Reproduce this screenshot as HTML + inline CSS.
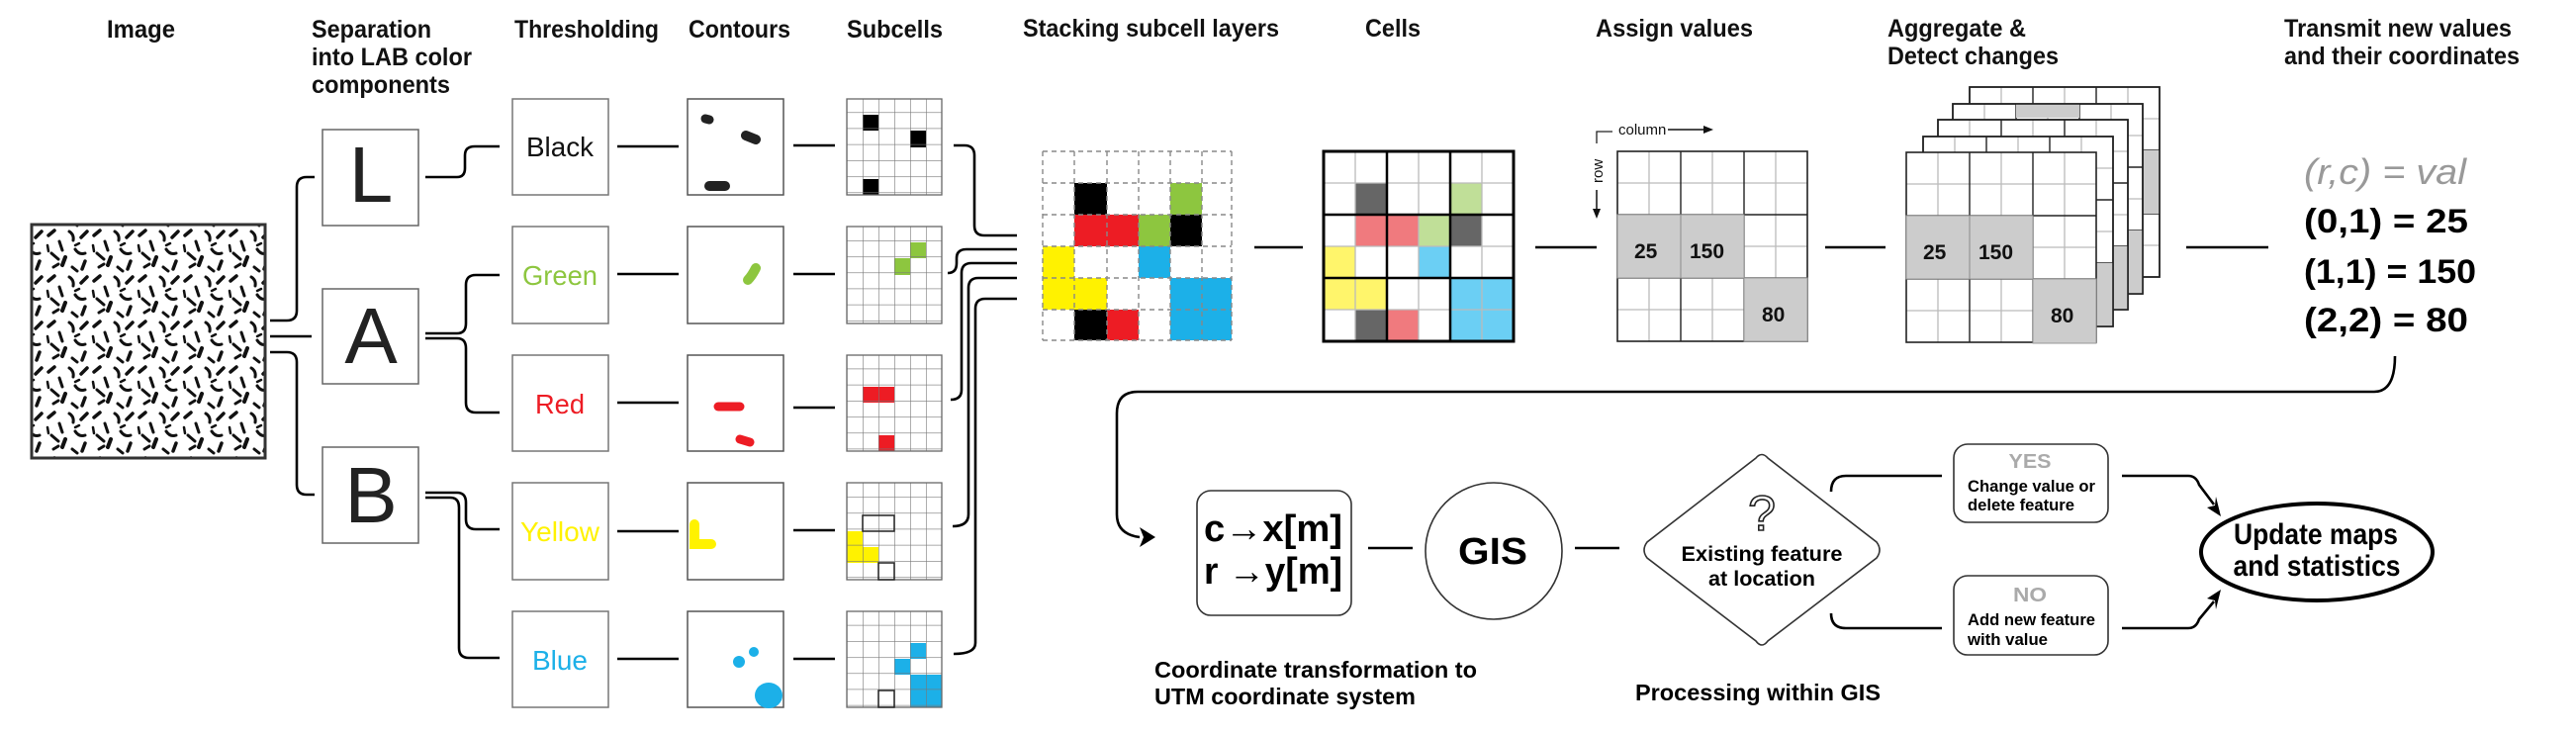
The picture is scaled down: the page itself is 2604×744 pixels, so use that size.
<!DOCTYPE html>
<html><head><meta charset="utf-8"><style>
html,body{margin:0;padding:0;background:#fff;}
svg{display:block;}
text{font-family:"Liberation Sans Narrow","Liberation Sans",sans-serif;}
.t{font-weight:bold;font-size:25px;fill:#111;}
.c{stroke:#000;stroke-width:2.6;fill:none;}
.thin{stroke:#888;stroke-width:1.2;fill:none;}
</style></head><body>
<svg width="2604" height="744" viewBox="0 0 2604 744" xmlns="http://www.w3.org/2000/svg">
<defs>
<pattern id="tex" width="46" height="46" patternUnits="userSpaceOnUse">
<g stroke="#111" stroke-linecap="round" fill="none">
<path d="M3 8 l6 -5" stroke-width="3.5"/><path d="M14 14 l3 9" stroke-width="3"/><path d="M24 4 q5 3 4 9" stroke-width="3"/>
<path d="M36 10 l6 -6" stroke-width="3.5"/><path d="M6 26 l7 6" stroke-width="3"/><path d="M20 30 l-3 8" stroke-width="4"/>
<path d="M30 22 q4 6 10 4" stroke-width="3"/><path d="M40 34 l-3 8" stroke-width="3.5"/><path d="M8 40 l5 -3" stroke-width="3"/>
<path d="M27 40 l5 4" stroke-width="3"/><path d="M34 16 l-4 2" stroke-width="2.5"/><path d="M2 18 l1 6" stroke-width="2.5"/>
</g></pattern>
<pattern id="sg" x="856" y="0" width="16" height="16.2" patternUnits="userSpaceOnUse">
<path d="M0 0 V16.2 M0 0 H16" stroke="#777" stroke-width="1.2" fill="none"/></pattern>
<g id="g3">
<rect x="0" y="0" width="192" height="192" fill="#fff"/>
<path d="M32 0V192M96 0V192M160 0V192M0 32H192M0 96H192M0 160H192" stroke="#bbb" stroke-width="1.3"/>
<path d="M64 0V192M128 0V192M0 64H192M0 128H192" stroke="#222" stroke-width="1.4"/>
<rect x="0" y="0" width="192" height="192" fill="none" stroke="#222" stroke-width="1.6"/>
</g>
</defs>

<text class="t" x="108" y="38" textLength="69" lengthAdjust="spacingAndGlyphs">Image</text>
<text class="t" x="315" y="38" textLength="121" lengthAdjust="spacingAndGlyphs">Separation</text>
<text class="t" x="315" y="66" textLength="162" lengthAdjust="spacingAndGlyphs">into LAB color</text>
<text class="t" x="315" y="94" textLength="140" lengthAdjust="spacingAndGlyphs">components</text>
<text class="t" x="520" y="38" textLength="146" lengthAdjust="spacingAndGlyphs">Thresholding</text>
<text class="t" x="696" y="38" textLength="103" lengthAdjust="spacingAndGlyphs">Contours</text>
<text class="t" x="856" y="38" textLength="97" lengthAdjust="spacingAndGlyphs">Subcells</text>
<text class="t" x="1034" y="37" textLength="259" lengthAdjust="spacingAndGlyphs">Stacking subcell layers</text>
<text class="t" x="1380" y="37" textLength="56" lengthAdjust="spacingAndGlyphs">Cells</text>
<text class="t" x="1613" y="37" textLength="159" lengthAdjust="spacingAndGlyphs">Assign values</text>
<text class="t" x="1908" y="37" textLength="140" lengthAdjust="spacingAndGlyphs">Aggregate &amp;</text>
<text class="t" x="1908" y="65" textLength="173" lengthAdjust="spacingAndGlyphs">Detect changes</text>
<text class="t" x="2309" y="37" textLength="230" lengthAdjust="spacingAndGlyphs">Transmit new values</text>
<text class="t" x="2309" y="65" textLength="238" lengthAdjust="spacingAndGlyphs">and their coordinates</text>

<rect x="32" y="227" width="236" height="236" fill="url(#tex)" stroke="#333" stroke-width="3"/>

<path class="c" d="M273 324 H290 Q300 324 300 314 V189 Q300 179 310 179 H318"/>
<path class="c" d="M273 340 H315"/>
<path class="c" d="M273 356 H290 Q300 356 300 366 V490 Q300 500 310 500 H318"/>

<g fill="#fff" stroke="#666" stroke-width="1.5">
<rect x="326" y="131" width="97" height="97"/><rect x="326" y="292" width="97" height="96"/><rect x="326" y="452" width="97" height="97"/></g>
<g font-size="80" fill="#222" text-anchor="middle" font-family="Liberation Sans,sans-serif">
<text x="375" y="204">L</text><text x="375" y="367">A</text><text x="375" y="528">B</text></g>

<path class="c" d="M430 179 H462 Q470 179 470 170 V157 Q470 148 480 148 H505"/>
<path class="c" d="M430 337 H462 Q471 337 471 327 V288 Q471 278 481 278 H505"/>
<path class="c" d="M430 342 H462 Q471 342 471 352 V407 Q471 417 481 417 H505"/>
<path class="c" d="M430 498 H462 Q471 498 471 508 V525 Q471 535 481 535 H505"/>
<path class="c" d="M430 503 H455 Q464 503 464 513 V655 Q464 665 474 665 H505"/>

<g fill="#fff" stroke="#777" stroke-width="1.5">
<rect x="518" y="100" width="97" height="97"/><rect x="518" y="229" width="97" height="98"/><rect x="518" y="359" width="97" height="97"/><rect x="518" y="488" width="97" height="98"/><rect x="518" y="618" width="97" height="97"/></g>
<g font-size="28" text-anchor="middle" font-family="Liberation Sans,sans-serif">
<text x="566" y="158" fill="#111" textLength="68" lengthAdjust="spacingAndGlyphs">Black</text>
<text x="566" y="288" fill="#8dc63f" textLength="76" lengthAdjust="spacingAndGlyphs">Green</text>
<text x="566" y="418" fill="#ed1c24" textLength="50" lengthAdjust="spacingAndGlyphs">Red</text>
<text x="566" y="547" fill="#fff200" textLength="80" lengthAdjust="spacingAndGlyphs">Yellow</text>
<text x="566" y="677" fill="#1cb0e8" textLength="56" lengthAdjust="spacingAndGlyphs">Blue</text></g>

<path class="c" d="M624 148H686M624 277H686M624 407H686M624 537H686M624 666H686"/>

<g fill="#fff" stroke="#555" stroke-width="1.5">
<rect x="695" y="100" width="97" height="97"/><rect x="695" y="229" width="97" height="98"/><rect x="695" y="359" width="97" height="97"/><rect x="695" y="488" width="97" height="98"/><rect x="695" y="618" width="97" height="97"/></g>
<g stroke-linecap="round" fill="none">
<path d="M713 120 l4 1" stroke="#222" stroke-width="9"/>
<path d="M754 137 l10 4" stroke="#222" stroke-width="10"/>
<path d="M717 188 h16" stroke="#222" stroke-width="10"/>
<path d="M756 283 q4 -4 8 -12" stroke="#8dc63f" stroke-width="10"/>
<path d="M726 411 h22" stroke="#ed1c24" stroke-width="9"/>
<path d="M748 444 l10 3" stroke="#ed1c24" stroke-width="9"/>
<path d="M702 530 v20 h17" stroke="#fff200" stroke-width="10"/>
</g>
<circle cx="762" cy="659" r="5" fill="#1cb0e8"/>
<circle cx="747" cy="669" r="6" fill="#1cb0e8"/>
<ellipse cx="777" cy="703" rx="14" ry="13" fill="#1cb0e8"/>

<path class="c" d="M802 147H844M802 277H844M802 412H844M802 536H844M802 666H844"/>

<g>
<rect x="856" y="100" width="96" height="97" fill="#fff"/>
<rect x="872" y="116" width="16" height="16" fill="#000"/><rect x="920" y="132" width="16" height="17" fill="#000"/><rect x="872" y="181" width="16" height="16" fill="#000"/>
<rect x="856" y="100" width="96" height="97" fill="url(#sg)" stroke="#666" stroke-width="1.3"/>
</g>
<g>
<rect x="856" y="229" width="96" height="98" fill="#fff"/>
<rect x="920" y="245" width="16" height="16" fill="#8dc63f"/><rect x="904" y="261" width="16" height="17" fill="#8dc63f"/>
<rect x="856" y="229" width="96" height="98" fill="url(#sg)" stroke="#666" stroke-width="1.3"/>
</g>
<g>
<rect x="856" y="359" width="96" height="97" fill="#fff"/>
<rect x="872" y="391" width="32" height="16" fill="#ed1c24"/><rect x="888" y="440" width="16" height="16" fill="#ed1c24"/>
<rect x="856" y="359" width="96" height="97" fill="url(#sg)" stroke="#666" stroke-width="1.3"/>
</g>
<g>
<rect x="856" y="488" width="96" height="98" fill="#fff"/>
<rect x="856" y="537" width="16" height="32" fill="#fff200"/><rect x="872" y="553" width="16" height="16" fill="#fff200"/>
<rect x="856" y="488" width="96" height="98" fill="url(#sg)" stroke="#666" stroke-width="1.3"/>
<path d="M872 521h32v16h-32zM888 569h16v17h-16z" fill="none" stroke="#222" stroke-width="1.5"/>
</g>
<g>
<rect x="856" y="618" width="96" height="97" fill="#fff"/>
<rect x="920" y="650" width="16" height="16" fill="#1cb0e8"/><rect x="904" y="666" width="16" height="16" fill="#1cb0e8"/><rect x="920" y="682" width="32" height="33" fill="#1cb0e8"/>
<rect x="856" y="618" width="96" height="97" fill="url(#sg)" stroke="#666" stroke-width="1.3"/>
<path d="M888 698h16v17h-16z" fill="none" stroke="#222" stroke-width="1.5"/>
</g>

<path class="c" d="M964 147 H975 Q985 147 985 157 V228 Q985 238 995 238 H1028"/>
<path class="c" d="M958 276 Q967 276 967 266 V261 Q967 252 977 252 H1028"/>
<path class="c" d="M961 404 Q972 404 972 394 V276 Q972 266 982 266 H1028"/>
<path class="c" d="M963 532 Q979 532 979 520 V291 Q979 281 989 281 H1028"/>
<path class="c" d="M964 661 Q986 661 986 650 V312 Q986 302 996 302 H1028"/>

<g>
<rect x="1086" y="185" width="33" height="32" fill="#000"/><rect x="1183" y="185" width="32" height="32" fill="#8dc63f"/>
<rect x="1086" y="217" width="65" height="32" fill="#ed1c24"/><rect x="1151" y="217" width="32" height="32" fill="#8dc63f"/><rect x="1183" y="217" width="32" height="32" fill="#000"/>
<rect x="1054" y="249" width="32" height="32" fill="#fff200"/><rect x="1151" y="249" width="32" height="32" fill="#1cb0e8"/>
<rect x="1054" y="281" width="65" height="32" fill="#fff200"/><rect x="1183" y="281" width="62" height="32" fill="#1cb0e8"/>
<rect x="1086" y="313" width="33" height="31" fill="#000"/><rect x="1119" y="313" width="32" height="31" fill="#ed1c24"/><rect x="1183" y="313" width="62" height="31" fill="#1cb0e8"/>
<path d="M1054 153V344M1086 153V344M1119 153V344M1151 153V344M1183 153V344M1215 153V344M1245 153V344M1054 153H1245M1054 185H1245M1054 217H1245M1054 249H1245M1054 281H1245M1054 313H1245M1054 344H1245" stroke="#888" stroke-width="1.4" stroke-dasharray="5,4" fill="none"/>
</g>
<path class="c" d="M1268 250H1317"/>

<g>
<rect x="1338" y="153" width="192" height="192" fill="#fff"/>
<rect x="1370" y="185" width="32" height="32" fill="#666"/><rect x="1466" y="185" width="32" height="32" fill="#c0df98"/>
<rect x="1370" y="217" width="64" height="32" fill="#f07a7e"/><rect x="1434" y="217" width="32" height="32" fill="#c0df98"/><rect x="1466" y="217" width="32" height="32" fill="#666"/>
<rect x="1338" y="249" width="32" height="32" fill="#fff56b"/><rect x="1434" y="249" width="32" height="32" fill="#6bcff4"/>
<rect x="1338" y="281" width="64" height="32" fill="#fff56b"/><rect x="1466" y="281" width="64" height="64" fill="#6bcff4"/>
<rect x="1370" y="313" width="32" height="32" fill="#666"/><rect x="1402" y="313" width="32" height="32" fill="#f07a7e"/>
<path d="M1370 153V345M1434 153V345M1498 153V345M1338 185H1530M1338 249H1530M1338 313H1530" stroke="#bbb" stroke-width="1.3"/>
<path d="M1402 153V345M1466 153V345M1338 217H1530M1338 281H1530" stroke="#000" stroke-width="2.5"/>
<rect x="1338" y="153" width="192" height="192" fill="none" stroke="#000" stroke-width="3"/>
</g>
<path class="c" d="M1552 250H1614"/>

<use href="#g3" x="1635" y="153"/>
<rect x="1635" y="217" width="128" height="64" fill="#ccc" stroke="#999" stroke-width="1"/>
<path d="M1699 217V281" stroke="#999" stroke-width="1.3"/>
<rect x="1763" y="281" width="64" height="64" fill="#ccc" stroke="#999" stroke-width="1"/>
<g font-weight="bold" font-size="21" fill="#111" font-family="Liberation Sans,sans-serif">
<text x="1652" y="261">25</text><text x="1708" y="261">150</text><text x="1781" y="325">80</text></g>
<path d="M1614 145V133H1630" stroke="#222" stroke-width="1.3" fill="none"/>
<text x="1636" y="136" font-size="15" fill="#111" font-family="Liberation Sans,sans-serif">column</text>
<path d="M1686 131H1722" stroke="#111" stroke-width="1.5"/><path d="M1732 131l-10 -4v8z" fill="#111"/>
<text transform="translate(1620,185) rotate(-90)" font-size="15" fill="#111" font-family="Liberation Sans,sans-serif">row</text>
<path d="M1614 192V212" stroke="#111" stroke-width="1.5"/><path d="M1614 221l-4 -10h8z" fill="#111"/>
<path class="c" d="M1845 250H1906"/>

<g>
<use href="#g3" x="1991" y="88"/><rect x="2119" y="152" width="64" height="64" fill="#ccc"/><rect x="1991" y="88" width="192" height="192" fill="none" stroke="#222" stroke-width="1.6"/>
<use href="#g3" x="1974" y="105"/><rect x="2038" y="105" width="64" height="14" fill="#ccc"/><rect x="2102" y="233" width="64" height="64" fill="#ccc"/><rect x="1974" y="105" width="192" height="192" fill="none" stroke="#222" stroke-width="1.6"/>
<use href="#g3" x="1959" y="121"/><rect x="2087" y="249" width="64" height="64" fill="#ccc"/><rect x="1959" y="121" width="192" height="192" fill="none" stroke="#222" stroke-width="1.6"/>
<use href="#g3" x="1944" y="138"/><rect x="2072" y="266" width="64" height="64" fill="#ccc"/><rect x="1944" y="138" width="192" height="192" fill="none" stroke="#222" stroke-width="1.6"/>
<use href="#g3" x="1927" y="154"/>
<rect x="1927" y="218" width="128" height="64" fill="#ccc" stroke="#999" stroke-width="1"/>
<path d="M1991 218V282" stroke="#999" stroke-width="1.3"/>
<rect x="2055" y="282" width="64" height="65" fill="#ccc" stroke="#999" stroke-width="1"/>
</g>
<g font-weight="bold" font-size="21" fill="#111" font-family="Liberation Sans,sans-serif">
<text x="1944" y="262">25</text><text x="2000" y="262">150</text><text x="2073" y="326">80</text></g>
<path class="c" d="M2210 250H2293"/>

<text x="2329" y="186" font-size="36" font-style="italic" fill="#999" textLength="164" lengthAdjust="spacingAndGlyphs" font-family="Liberation Sans,sans-serif">(r,c) =  val</text>
<g font-weight="bold" font-size="34" fill="#000" font-family="Liberation Sans,sans-serif">
<text x="2329" y="235" textLength="166" lengthAdjust="spacingAndGlyphs">(0,1) =  25</text>
<text x="2329" y="286" textLength="174" lengthAdjust="spacingAndGlyphs">(1,1) = 150</text>
<text x="2329" y="335" textLength="166" lengthAdjust="spacingAndGlyphs">(2,2) =  80</text></g>

<path class="c" d="M2421 360 Q2421 396 2400 396 H1150 Q1129 396 1129 418 V520 Q1129 540 1152 543"/>
<path d="M1168 543 l-16 -10 l4 10 l-4 10z" fill="#000"/>

<rect x="1210" y="496" width="156" height="126" rx="14" fill="#fff" stroke="#333" stroke-width="1.6"/>
<g font-weight="bold" font-size="38" fill="#000" font-family="Liberation Sans,sans-serif">
<text x="1217" y="547" textLength="140" lengthAdjust="spacingAndGlyphs">c→x[m]</text>
<text x="1217" y="590" textLength="140" lengthAdjust="spacingAndGlyphs">r →y[m]</text></g>
<path class="c" d="M1383 554H1428"/>
<ellipse cx="1510" cy="557" rx="69" ry="69" fill="#fff" stroke="#333" stroke-width="1.6"/>
<text x="1509" y="570" text-anchor="middle" font-weight="bold" font-size="38" font-family="Liberation Sans,sans-serif" textLength="70" lengthAdjust="spacingAndGlyphs">GIS</text>
<path class="c" d="M1592 554H1637"/>

<path d="M1775 463 Q1781 456 1787 463 L1897 548 Q1903 556 1897 564 L1787 648 Q1781 656 1775 648 L1665 564 Q1659 556 1665 548 Z" fill="#fff" stroke="#333" stroke-width="1.6"/>
<text x="1781" y="536" text-anchor="middle" font-size="50" fill="#fff" stroke="#222" stroke-width="1.6" font-family="Liberation Sans,sans-serif">?</text>
<g font-weight="bold" font-size="21" fill="#000" text-anchor="middle">
<text x="1781" y="567" textLength="163" lengthAdjust="spacingAndGlyphs">Existing feature</text>
<text x="1781" y="592" textLength="108" lengthAdjust="spacingAndGlyphs">at location</text></g>
<path class="c" d="M1851 497 Q1851 481 1866 481 H1963"/>
<path class="c" d="M1851 620 Q1851 635 1866 635 H1963"/>

<rect x="1975" y="449" width="156" height="79" rx="14" fill="#fff" stroke="#333" stroke-width="1.6"/>
<rect x="1975" y="582" width="156" height="80" rx="14" fill="#fff" stroke="#333" stroke-width="1.6"/>
<g font-weight="bold" font-size="17" fill="#000">
<text x="2052" y="473" text-anchor="middle" fill="#aaa" font-size="20" textLength="43" lengthAdjust="spacingAndGlyphs">YES</text>
<text x="1989" y="497" textLength="129" lengthAdjust="spacingAndGlyphs">Change value or</text>
<text x="1989" y="516" textLength="108" lengthAdjust="spacingAndGlyphs">delete feature</text>
<text x="2052" y="608" text-anchor="middle" fill="#aaa" font-size="20" textLength="34" lengthAdjust="spacingAndGlyphs">NO</text>
<text x="1989" y="632" textLength="129" lengthAdjust="spacingAndGlyphs">Add new feature</text>
<text x="1989" y="652" textLength="81" lengthAdjust="spacingAndGlyphs">with value</text></g>
<path class="c" d="M2145 481 H2212 Q2220 481 2223 490 L2238 510"/>
<path d="M2245 522 l-14 -9 l8 -2 l1 -9z" fill="#000"/>
<path class="c" d="M2145 635 H2212 Q2220 635 2223 626 L2238 608"/>
<path d="M2245 596 l-14 9 l8 2 l1 9z" fill="#000"/>

<ellipse cx="2342" cy="558" rx="117" ry="49" fill="#fff" stroke="#000" stroke-width="4"/>
<g font-weight="bold" font-size="30" fill="#000" text-anchor="middle">
<text x="2341" y="550" textLength="166" lengthAdjust="spacingAndGlyphs">Update maps</text>
<text x="2342" y="582" textLength="169" lengthAdjust="spacingAndGlyphs">and statistics</text></g>

<g font-weight="bold" font-size="23" fill="#000">
<text x="1167" y="685" textLength="326" lengthAdjust="spacingAndGlyphs">Coordinate transformation to</text>
<text x="1167" y="712" textLength="264" lengthAdjust="spacingAndGlyphs">UTM coordinate system</text>
<text x="1653" y="708" textLength="248" lengthAdjust="spacingAndGlyphs">Processing within GIS</text></g>
</svg>
</body></html>
